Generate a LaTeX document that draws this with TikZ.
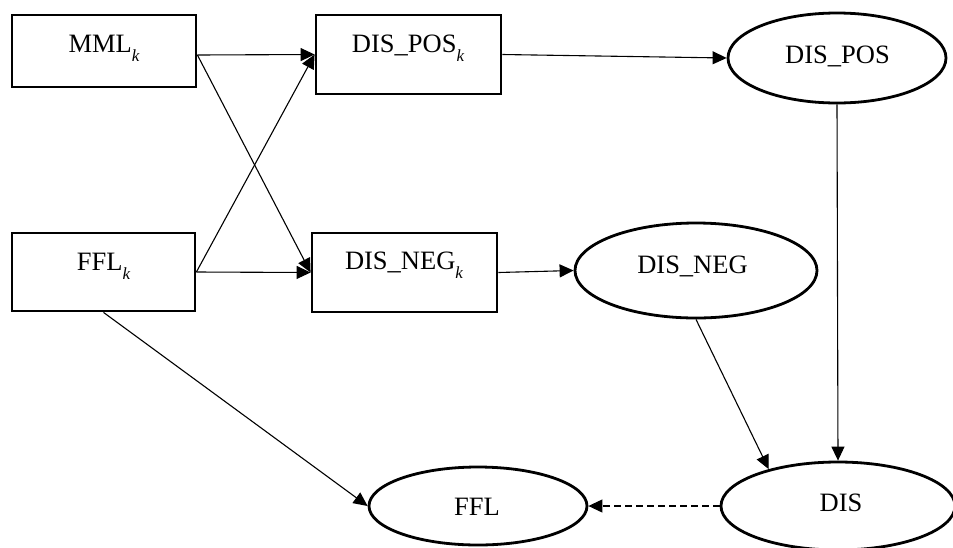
\documentclass[tikz,border=0pt]{standalone}
\usepackage{fontspec}
\setmainfont{Liberation Serif}
\usetikzlibrary{arrows.meta,shapes.geometric}
\tikzset{
  boxnode/.style={draw, line width=2.8pt, rectangle, inner sep=0pt},
  ellnode/.style={draw, line width=2.8pt, ellipse, inner sep=0pt},
  lbl/.style={anchor=base, inner sep=0pt, font=\fontsize{26.5pt}{26.5pt}\selectfont},
  conn/.style={line width=1.1pt, -{Triangle[length=14pt,width=13pt]}},
  dconn/.style={conn, dash pattern=on 7pt off 4pt},
}
\newcommand{\subk}{\raisebox{-9pt}{\fontsize{17pt}{17pt}\selectfont\itshape k}}
\begin{document}
\begin{tikzpicture}[x=1pt,y=-1pt]
\useasboundingbox (0,0) rectangle (953,547);
\clip (0,0) rectangle (953,547);
% boxes
\node[boxnode, minimum width=184pt, minimum height=72pt] (mml) at (104,51) {};
\node[boxnode, minimum width=183pt, minimum height=78pt] (ffk) at (103.5,272) {};
\node[boxnode, minimum width=185pt, minimum height=79pt] (dpk) at (408.5,54.5) {};
\node[boxnode, minimum width=185pt, minimum height=79pt] (dnk) at (404.5,272.5) {};
% ellipses
\node[ellnode, minimum width=218pt, minimum height=90pt] (dpos) at (837,58) {};
\node[ellnode, minimum width=242pt, minimum height=95pt] (dneg) at (696,270.5) {};
\node[ellnode, minimum width=234pt, minimum height=88pt] (dis) at (838,506) {};
\node[ellnode, minimum width=218pt, minimum height=78pt] (ffl) at (478,506) {};
% labels
\node[lbl] (tmml) at (104,52) {MML\subk};
\node[lbl] (tffk) at (103.5,270) {FFL\subk};
\node[lbl] (tdpk) at (408,52) {DIS\_POS\subk};
\node[lbl] (tdnk) at (404,269) {DIS\_NEG\subk};
\node[lbl] (tdpos) at (837.5,63) {DIS\_POS};
\node[lbl] (tdneg) at (692.5,273) {DIS\_NEG};
\node[lbl] (tdis) at (841,511) {DIS};
\node[lbl] (tffl) at (477,515) {FFL};
% connectors
\draw[conn] ([yshift=-4pt]mml.east) -- (dpk.west);
\draw[conn] ([yshift=-4pt]mml.east) -- (dnk.west);
\draw[conn] (ffk.east) -- (dpk.west);
\draw[conn] (ffk.east) -- (dnk.west);
\draw[conn] (dpk.east) -- (dpos.west);
\draw[conn] (dnk.east) -- (dneg.west);
\draw[conn] (ffk.south) -- (ffl.west);
\draw[conn] (dpos.south) -- (dis.north);
\draw[conn] (dneg.south) -- (dis.152);
\draw[dconn] (dis.west) -- (ffl.east);
\end{tikzpicture}
\end{document}
